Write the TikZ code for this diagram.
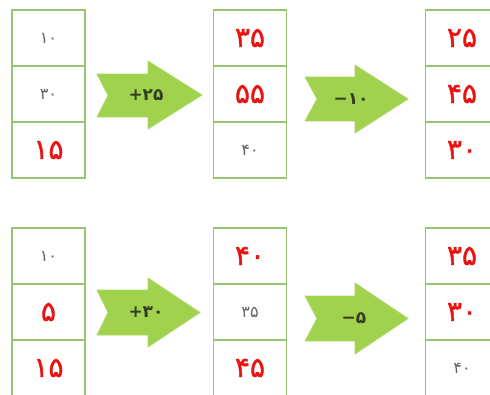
\documentclass[tikz,border=0pt]{standalone}
\usepackage{fontspec}
\newfontfamily\fa{DejaVu Sans}
\newfontfamily\faM[FakeBold=1.3]{DejaVu Sans}
\definecolor{gbord}{RGB}{150,198,112}
\definecolor{afill}{RGB}{160,210,78}
\definecolor{rtext}{RGB}{235,18,18}
\definecolor{gtext}{RGB}{100,100,100}
\definecolor{ltext}{RGB}{50,62,35}
\tikzset{
  cell/.style={draw=gbord,line width=1.6pt,minimum width=73pt,minimum height=56pt,inner sep=0pt},
  ans/.style={text=rtext,font=\faM\fontsize{28}{28}\selectfont},
  given/.style={text=gtext,font=\fa\fontsize{16}{16}\selectfont},
  lbl/.style={text=ltext,font=\fa\bfseries\fontsize{17}{17}\selectfont,inner sep=0pt},
  bigarrow/.style={fill=afill,draw=afill!85!white,line width=0.8pt,line join=miter}
}
\begin{document}
\begin{tikzpicture}[x=1pt,y=-1pt]
\useasboundingbox (0,0) rectangle (490,394);
\clip (0,0) rectangle (490,394);
\fill[white] (0,0) rectangle (490,394);
% ---------- top row ----------
\node[cell,given] (t11) at (48.5,38) {۱۰};
\node[cell,given] (t12) at (48.5,94) {۳۰};
\node[cell,ans]   (t13) at (48.5,150) {۱۵};
\node[cell,ans]   (t21) at (250,38) {۳۵};
\node[cell,ans]   (t22) at (250,94) {۵۵};
\node[cell,given] (t23) at (250,150) {۴۰};
\node[cell,ans]   (t31) at (462,38) {۲۵};
\node[cell,ans]   (t32) at (462,94) {۴۵};
\node[cell,ans]   (t33) at (462,150) {۳۰};
% ---------- bottom row ----------
\node[cell,given] (b11) at (48.5,256) {۱۰};
\node[cell,ans]   (b12) at (48.5,312) {۵};
\node[cell,ans]   (b13) at (48.5,368) {۱۵};
\node[cell,ans]   (b21) at (250,256) {۴۰};
\node[cell,given] (b22) at (250,312) {۳۵};
\node[cell,ans]   (b23) at (250,368) {۴۵};
\node[cell,ans]   (b31) at (462,256) {۳۵};
\node[cell,ans]   (b32) at (462,312) {۳۰};
\node[cell,given] (b33) at (462,368) {۴۰};
% ---------- arrows ----------
\draw[bigarrow] (97,74) -- (148,74) -- (148,61) -- (202,95) -- (148,129) -- (148,117) -- (97,117) -- (108,95.5) -- cycle;
\node[lbl] (a1) at (146,95) {+۲۵};
\draw[bigarrow] (305,77) -- (355,77) -- (355,65) -- (408,99) -- (355,133) -- (355,121) -- (305,121) -- (317,99) -- cycle;
\node[lbl] (a2) at (351,99) {−۱۰};
\draw[bigarrow] (97,290) -- (148,290) -- (148,278) -- (200,312.5) -- (148,347) -- (148,335) -- (97,335) -- (108,312.5) -- cycle;
\node[lbl] (a3) at (146,312.5) {+۳۰};
\draw[bigarrow] (305,296) -- (355,296) -- (355,283) -- (408,318.5) -- (355,354) -- (355,341) -- (305,341) -- (317,318.5) -- cycle;
\node[lbl] (a4) at (354,318) {−۵};
\end{tikzpicture}
\end{document}
